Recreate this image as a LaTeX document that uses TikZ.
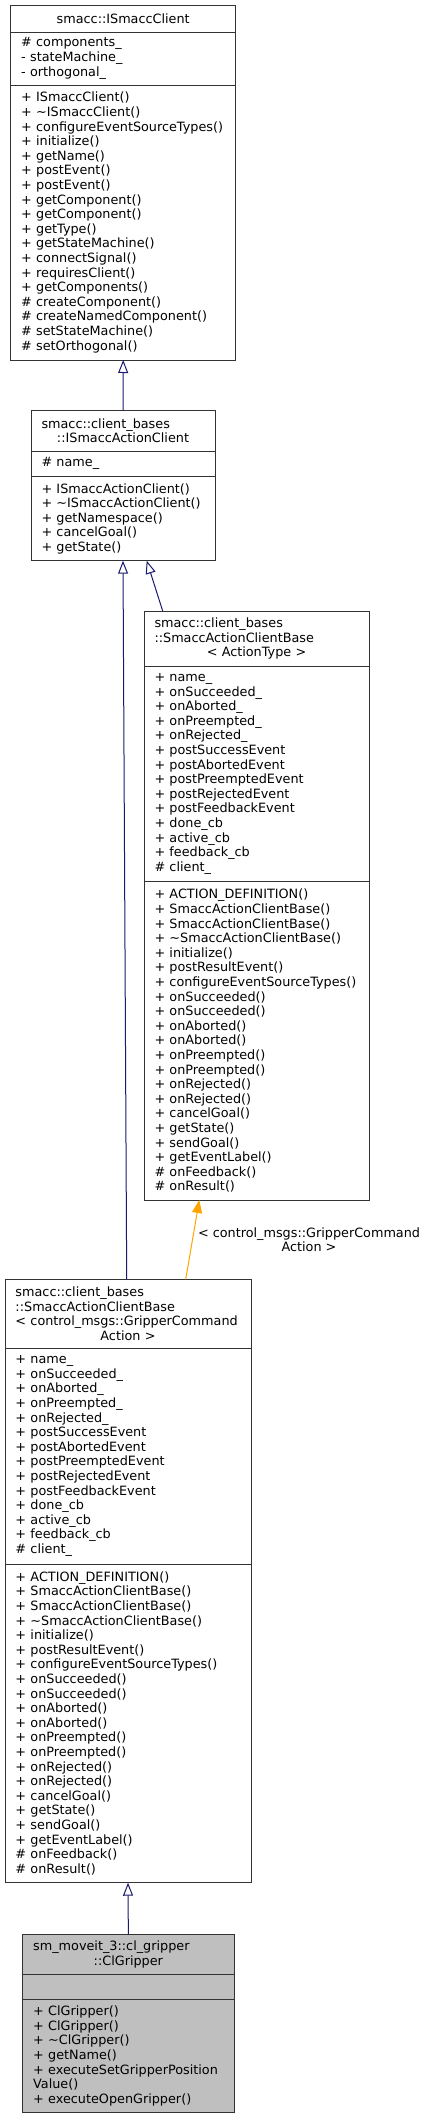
\documentclass[tikz,border=0pt]{standalone}
\usepackage{fontspec}
\setmainfont{DejaVu Sans}
\usetikzlibrary{shapes,arrows.meta,positioning}
\definecolor{midblue}{RGB}{25,25,112}
\definecolor{tmplorange}{RGB}{255,165,0}
\tikzstyle{cls}=[rectangle,draw=black!80,line width=0.8pt,fill=white,align=left,inner xsep=10.5pt,inner ysep=0pt,outer sep=0pt,font=\fontsize{12.8}{14.6}\selectfont]
\tikzstyle{clsgray}=[cls,fill=black!25]
\tikzstyle{inh}=[midblue,line width=1pt,-{Triangle[open,length=13pt,width=10pt]}]
\tikzstyle{tmpl}=[tmplorange,line width=1pt,-{Triangle[length=13pt,width=10pt]}]

\begin{document}
\begin{tikzpicture}[x=1pt,y=-1pt,node distance=0pt]
\useasboundingbox (0,0) rectangle (427,2119);
\node[cls, anchor=north west, align=center, minimum width=225pt, text width=204pt, minimum height=27pt] (b1t) at (10.7,5) {smacc::ISmaccClient};
\node[cls, below=of b1t, minimum width=225pt, text width=204pt, minimum height=53pt] (b1a) {\#~components\_\\-~stateMachine\_\\-~orthogonal\_};
\node[cls, below=of b1a, minimum width=225pt, text width=204pt, minimum height=275pt] (b1m) {+~ISmaccClient()\\+~\textasciitilde ISmaccClient()\\+~configureEventSourceTypes()\\+~initialize()\\+~getName()\\+~postEvent()\\+~postEvent()\\+~getComponent()\\+~getComponent()\\+~getType()\\+~getStateMachine()\\+~connectSignal()\\+~requiresClient()\\+~getComponents()\\\#~createComponent()\\\#~createNamedComponent()\\\#~setStateMachine()\\\#~setOrthogonal()};

\node[cls, anchor=north west, minimum width=184pt, text width=163pt, minimum height=40.3pt] (b2t) at (31,410.7) {smacc::client\_bases\\\makebox[\hsize]{::ISmaccActionClient}};
\node[cls, below=of b2t, minimum width=184pt, text width=163pt, minimum height=25.7pt] (b2a) {\#~name\_};
\node[cls, below=of b2a, minimum width=184pt, text width=163pt, minimum height=84pt] (b2m) {+~ISmaccActionClient()\\+~\textasciitilde ISmaccActionClient()\\+~getNamespace()\\+~cancelGoal()\\+~getState()};

\node[cls, anchor=north west, minimum width=225pt, text width=204pt, minimum height=55pt] (b3t) at (144,611) {smacc::client\_bases\\::SmaccActionClientBase\\\makebox[\hsize]{<~ActionType~>}};
\node[cls, below=of b3t, minimum width=225pt, text width=204pt, minimum height=215.7pt] (b3a) {+~name\_\\+~onSucceeded\_\\+~onAborted\_\\+~onPreempted\_\\+~onRejected\_\\+~postSuccessEvent\\+~postAbortedEvent\\+~postPreemptedEvent\\+~postRejectedEvent\\+~postFeedbackEvent\\+~done\_cb\\+~active\_cb\\+~feedback\_cb\\\#~client\_};
\node[cls, below=of b3a, minimum width=225pt, text width=204pt, minimum height=318.3pt] (b3m) {+~ACTION\_DEFINITION()\\+~SmaccActionClientBase()\\+~SmaccActionClientBase()\\+~\textasciitilde SmaccActionClientBase()\\+~initialize()\\+~postResultEvent()\\+~configureEventSourceTypes()\\+~onSucceeded()\\+~onSucceeded()\\+~onAborted()\\+~onAborted()\\+~onPreempted()\\+~onPreempted()\\+~onRejected()\\+~onRejected()\\+~cancelGoal()\\+~getState()\\+~sendGoal()\\+~getEventLabel()\\\#~onFeedback()\\\#~onResult()};

\node[cls, anchor=north west, minimum width=246pt, text width=225pt, minimum height=69pt] (b4t) at (5,1279.3) {smacc::client\_bases\\::SmaccActionClientBase\\<~control\_msgs::GripperCommand\\\makebox[\hsize]{Action~>}};
\node[cls, below=of b4t, minimum width=246pt, text width=225pt, minimum height=215.7pt] (b4a) {+~name\_\\+~onSucceeded\_\\+~onAborted\_\\+~onPreempted\_\\+~onRejected\_\\+~postSuccessEvent\\+~postAbortedEvent\\+~postPreemptedEvent\\+~postRejectedEvent\\+~postFeedbackEvent\\+~done\_cb\\+~active\_cb\\+~feedback\_cb\\\#~client\_};
\node[cls, below=of b4a, minimum width=246pt, text width=225pt, minimum height=318.7pt] (b4m) {+~ACTION\_DEFINITION()\\+~SmaccActionClientBase()\\+~SmaccActionClientBase()\\+~\textasciitilde SmaccActionClientBase()\\+~initialize()\\+~postResultEvent()\\+~configureEventSourceTypes()\\+~onSucceeded()\\+~onSucceeded()\\+~onAborted()\\+~onAborted()\\+~onPreempted()\\+~onPreempted()\\+~onRejected()\\+~onRejected()\\+~cancelGoal()\\+~getState()\\+~sendGoal()\\+~getEventLabel()\\\#~onFeedback()\\\#~onResult()};

\node[clsgray, anchor=north west, minimum width=211.3pt, text width=190.3pt, minimum height=40.3pt] (b5t) at (22.7,1934) {sm\_moveit\_3::cl\_gripper\\\makebox[\hsize]{::ClGripper}};
\node[clsgray, below=of b5t, minimum width=211.3pt, text width=190.3pt, minimum height=25pt] (b5a) {};
\node[clsgray, below=of b5a, minimum width=211.3pt, text width=190.3pt, minimum height=113.4pt] (b5m) {+~ClGripper()\\+~ClGripper()\\+~\textasciitilde ClGripper()\\+~getName()\\+~executeSetGripperPosition\\Value()\\+~executeOpenGripper()};

\draw[inh] (b2t.north) -- (b1m.south);
\draw[inh] ([xshift=18.7pt]b3t.north west) -- ([xshift=23.7pt]b2m.south);
\draw[inh] ([xshift=-1.3pt]b4t.north) -- (b2m.south);
\draw[tmpl] ([xshift=57.7pt]b4t.north) -- node[right, align=center, text=black, inner sep=5pt, font=\fontsize{12.8}{14}\selectfont] (lbl) {<~control\_msgs::GripperCommand\\Action~>} ([xshift=55.3pt]b3m.south west);
\draw[inh] (b5t.north) -- (b4m.south);
\end{tikzpicture}
\end{document}
